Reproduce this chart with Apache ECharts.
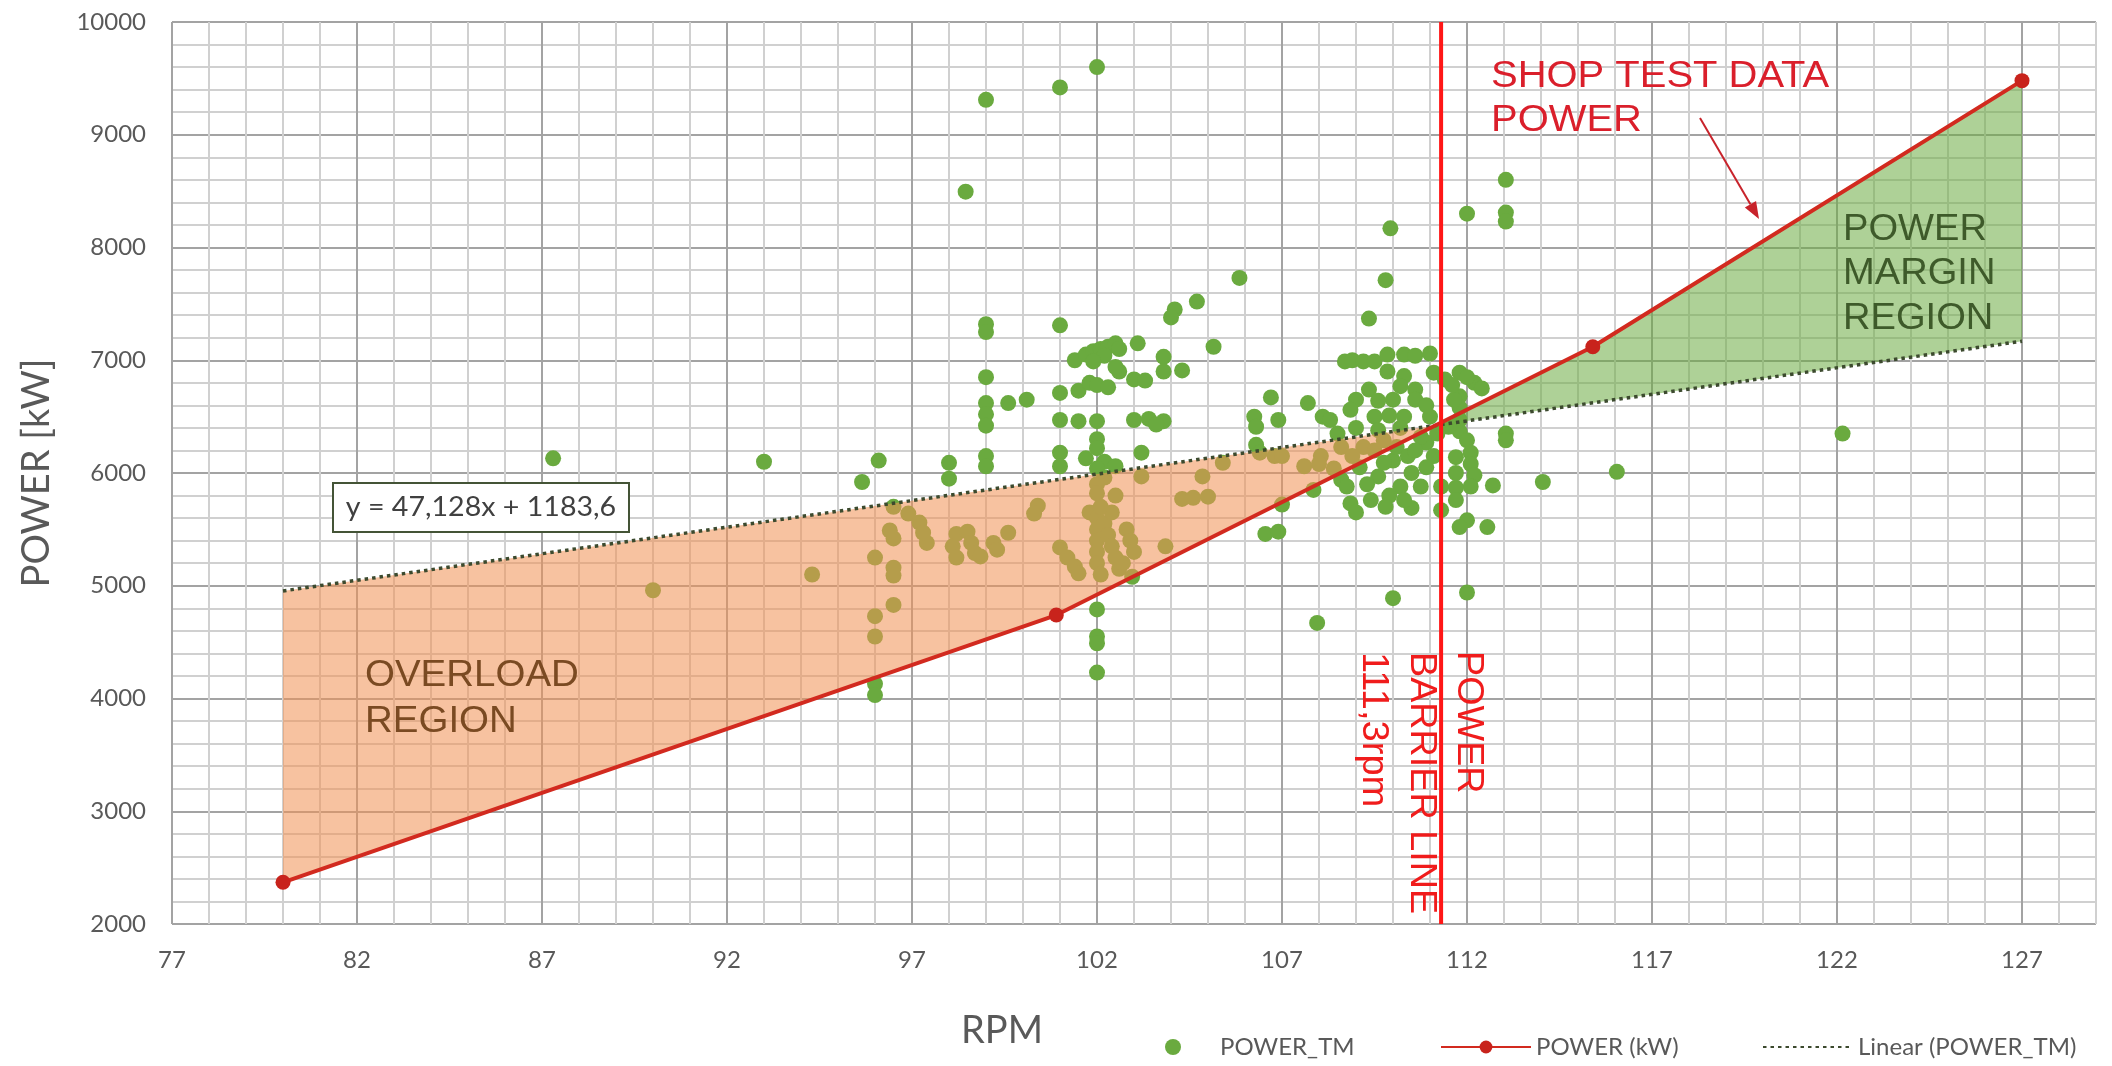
<!DOCTYPE html>
<html>
<head>
<meta charset="utf-8">
<script src="https://cdn.jsdelivr.net/npm/echarts@6/dist/echarts.min.js"></script>
<style>
html,body{margin:0;padding:0;background:#ffffff;}
#chart{width:2112px;height:1066px;}
</style>
</head>
<body>
<div id="chart"></div>
<script>
// ---------------- DATA ----------------
// POWER_TM measurements: [RPM, kW]
const powerTM = [
 [87.3,6130],[90.0,4960],[93.0,6100],[94.3,5100],[95.65,5920],[96.1,6110],
 [96.0,4130],[96.0,4030],[96.0,4730],[96.0,4550],[96.5,4830],[96.0,5250],[96.5,5160],[96.5,5090],
 [96.4,5490],[96.5,5420],[96.5,5700],[96.9,5640],[97.2,5560],[97.4,5380],[97.3,5470],
 [98.0,6090],[98.0,5950],[98.45,8495],[98.2,5460],[98.1,5350],[98.2,5250],[98.5,5480],[98.6,5380],[98.7,5290],[98.85,5260],
 [99.0,9310],[99.0,7320],[99.0,7250],[99.0,6850],[99.0,6620],[99.0,6520],[99.0,6420],[99.0,6150],[99.0,6060],
 [99.2,5380],[99.3,5320],[99.6,5470],[99.6,6620],[100.1,6650],[100.4,5710],[100.3,5640],
 [101.0,9420],[101.0,7310],[101.4,7000],[101.0,6710],[101.5,6730],[101.0,6470],[101.5,6460],[101.0,6180],[101.0,6060],[101.7,6130],
 [101.0,5340],[101.2,5250],[101.4,5170],[101.5,5110],
 [102.0,9600],[101.7,7050],[101.9,7080],[102.1,7100],[102.3,7120],[102.5,7150],[102.6,7100],[102.2,7040],[101.9,6990],
 [101.8,6800],[102.0,6780],[102.3,6760],[102.6,6900],[102.5,6940],[102.0,6460],[102.0,6300],[102.0,6220],[102.2,6100],[102.5,6060],
 [102.0,6040],[102.2,5960],[102.0,5900],[102.0,5820],[102.5,5800],[101.8,5650],[102.0,5600],[102.0,5500],[102.0,5400],[102.0,5300],
 [102.0,5200],[102.1,5100],[102.2,5550],[102.3,5450],[102.4,5350],[102.5,5250],[102.6,5150],[102.8,5500],[102.9,5400],[103.0,5300],
 [102.7,5200],[102.4,5650],[102.1,5700],[102.0,4790],[102.0,4550],[102.0,4490],[102.0,4230],[102.95,5080],
 [103.1,7150],[103.0,6830],[103.3,6820],[103.0,6470],[103.4,6480],[103.8,6460],[103.6,6430],[103.2,6180],[103.2,5970],[103.85,5350],
 [103.8,7030],[104.3,6910],[103.8,6900],[104.1,7450],[104.0,7380],[104.7,7520],[105.15,7120],[105.85,7730],
 [104.3,5770],[104.6,5780],[105.0,5790],[104.85,5970],[105.4,6090],
 [106.25,6500],[106.3,6410],[106.7,6670],[106.9,6470],[106.3,6250],[106.4,6180],[106.8,6150],[106.55,5460],[106.9,5480],[107.0,5720],
 [107.6,6060],[107.7,6620],[108.1,6500],[108.3,6470],[107.95,4670],[107.85,5850],[108.05,6150],[108.0,6080],
 [108.7,6990],[108.9,7000],[109.2,6990],[109.5,6990],[109.85,7050],[110.3,7050],[110.6,7040],[111.0,7060],[109.85,6900],[110.3,6860],
 [110.6,6740],[110.6,6650],[111.1,6890],[111.4,6830],[111.8,6890],[112.2,6800],[112.4,6750],[109.35,6740],[109.0,6650],[108.85,6560],
 [109.35,7370],[109.8,7710],[109.93,8170],[108.5,6350],[109.5,6500],[109.9,6510],[110.3,6500],[111.0,6500],
 [109.0,6400],[109.6,6380],[110.2,6400],[108.6,6230],[109.2,6230],[109.75,6290],
 [111.8,6680],[111.8,6580],[111.8,6470],[111.8,6370],[112.0,6290],[112.1,6180],[112.1,6080],[112.2,5980],[112.1,5880],
 [113.05,6350],[113.05,6290],[111.7,6140],[111.7,6000],[111.7,5870],[111.7,5760],[112.7,5890],[114.05,5920],
 [112.0,5580],[112.55,5520],[111.8,5520],[111.3,5670],[110.5,5690],[110.0,4890],[112.0,4940],
 [112.0,8300],[113.05,8600],[113.05,8310],[113.05,8230],[116.05,6010],[122.15,6350],[111.65,6650],[112.0,6850],[111.6,6780],
 [108.6,5940],[108.85,5730],[109.0,5650],[109.4,5760],[109.1,6050],[109.6,5970],[110.0,6110],[110.2,5880],[110.5,6000],
 [110.75,5880],[110.9,6270],[111.1,6150],[111.3,5880],[110.75,6320],[110.1,6230],[109.75,6090],[108.75,5880],[111.5,6410],
 [109.3,5900],[110.4,6150],[110.9,6050],[109.9,5800],[108.4,6040],[107.0,6150],
 [109.5,6200],[110.6,6200],[110.9,6600],[111.2,6350],[108.9,6150],[110.0,6650],[110.2,6770],[109.6,6640],
 [109.8,5700],[110.3,5760]
];
// Shop test data power curve: [RPM, kW]
const shopTestPower = [[80, 2370], [100.9, 4740], [115.4, 7120], [127, 9480]];
// Linear trend of POWER_TM (y = 47,128x + 1183,6): end points
const linearTrend = [[80, 4954], [127, 7169]];
// Power barrier line at 111,3 rpm
const barrierLine = [[111.3, 2000], [111.3, 10000]];
// Shaded regions (vertices)
const overloadRegion = [[80, 4954], [111.15, 6422], [100.9, 4740], [80, 2370]];
const marginRegion = [[111.15, 6422], [115.4, 7120], [127, 9480], [127, 7169]];
// Axis settings
const xMin = 77, xMax = 129, xMinor = 1, xMajor = 5;
const yMin = 2000, yMax = 10000, yMinor = 200, yMajor = 1000;
const equationText = 'y = 47,128x + 1183,6';

// ---------------- CHART ----------------
const chart = echarts.init(document.getElementById('chart'), null, {renderer: 'canvas'});
const MAJOR = '#A3A3A3', MINOR = '#D0D0D0';
const TICK_FONT = 'Lato';
const ANN_FONT = '"Liberation Sans", Arial, sans-serif';

function regionRenderer(points, fill) {
  return function (params, api) {
    if (params.dataIndex !== 0) return null;
    return {
      type: 'polygon',
      shape: { points: points.map(function (p) { return api.coord(p); }) },
      style: { fill: fill }
    };
  };
}

function annText(text, x, y, color, opts) {
  return Object.assign({
    type: 'text', x: x, y: y, silent: true, z: 100,
    style: {
      text: text, fill: color, fontFamily: ANN_FONT, fontSize: 37,
      textAlign: 'left', textVerticalAlign: 'middle'
    }
  }, opts || {});
}

// arrow geometry (annotation)
const arrowFrom = [1700, 118], arrowTo = [1759, 219];
const adx = arrowTo[0] - arrowFrom[0], ady = arrowTo[1] - arrowFrom[1];
const alen = Math.sqrt(adx * adx + ady * ady);
const ux = adx / alen, uy = ady / alen;
const headL = 17, headW = 6.5;
const baseX = arrowTo[0] - ux * headL, baseY = arrowTo[1] - uy * headL;

const option = {
  animation: false,
  backgroundColor: '#ffffff',
  grid: { left: 172, right: 16, top: 22, bottom: 142, containLabel: false },
  xAxis: {
    type: 'value', min: xMin, max: xMax, interval: xMinor,
    axisLine: { show: false }, axisTick: { show: false },
    axisLabel: {
      formatter: function (v) { return ((v - xMin) % xMajor === 0) ? String(v) : ''; },
      color: '#595959', fontFamily: TICK_FONT, fontSize: 24, margin: 24
    },
    splitLine: { show: true, lineStyle: { color: [MAJOR, MINOR, MINOR, MINOR, MINOR], width: 2 } },
    name: 'RPM', nameLocation: 'middle', nameGap: 88,
    nameTextStyle: { color: '#595959', fontFamily: TICK_FONT, fontSize: 38, padding: [0, 264, 0, 0] }
  },
  yAxis: {
    type: 'value', min: yMin, max: yMax, interval: yMinor,
    axisLine: { show: false }, axisTick: { show: false },
    axisLabel: {
      formatter: function (v) { return (v % yMajor === 0) ? String(v) : ''; },
      color: '#595959', fontFamily: TICK_FONT, fontSize: 24, margin: 26
    },
    splitLine: { show: true, lineStyle: { color: [MAJOR, MINOR, MINOR, MINOR, MINOR], width: 2 } },
    name: 'POWER [kW]', nameLocation: 'middle', nameGap: 116,
    nameTextStyle: { color: '#595959', fontFamily: TICK_FONT, fontSize: 38 }
  },
  legend: [
    { data: ['POWER_TM'], left: 1160, top: 1030, itemWidth: 16, itemHeight: 16,
      textStyle: { color: '#595959', fontFamily: TICK_FONT, fontSize: 24, padding: [0, 0, 0, 34] } },
    { data: ['POWER (kW)'], left: 1435, top: 1030, itemWidth: 90, itemHeight: 16,
      textStyle: { color: '#595959', fontFamily: TICK_FONT, fontSize: 24 } },
    { data: ['Linear (POWER_TM)'], left: 1757, top: 1030, itemWidth: 86, itemHeight: 16,
      itemStyle: { color: 'rgba(0,0,0,0)', borderColor: 'rgba(0,0,0,0)', borderWidth: 0, opacity: 0 },
      textStyle: { color: '#595959', fontFamily: TICK_FONT, fontSize: 24, padding: [0, 0, 0, 4] } }
  ],
  series: [
    {
      name: 'POWER_TM', type: 'scatter', data: powerTM, symbol: 'circle', symbolSize: 16,
      itemStyle: { color: '#6AAA3F', opacity: 1 }, z: 2
    },
    {
      name: 'Overload region', type: 'custom', data: overloadRegion, clip: true, silent: true,
      renderItem: regionRenderer(overloadRegion, 'rgba(241,146,86,0.56)'), z: 3
    },
    {
      name: 'Power margin region', type: 'custom', data: marginRegion, clip: true, silent: true,
      renderItem: regionRenderer(marginRegion, 'rgba(108,172,66,0.55)'), z: 3
    },
    {
      name: 'Linear (POWER_TM)', type: 'line', data: linearTrend, symbol: 'none',
      lineStyle: { color: '#3C4A2E', width: 3.5, type: [3.5, 4] }, z: 5
    },
    {
      name: 'POWER (kW)', type: 'line', data: shopTestPower, symbol: 'circle', symbolSize: 15,
      lineStyle: { color: '#D22A1F', width: 4 }, itemStyle: { color: '#C8231C' }, z: 6
    },
    {
      name: 'Power barrier line', type: 'line', data: barrierLine, symbol: 'none',
      lineStyle: { color: '#FF1616', width: 4 }, z: 7
    }
  ],
  graphic: [
    // trend-line equation box
    { type: 'rect', shape: { x: 333, y: 483, width: 296, height: 49 }, silent: true, z: 100,
      style: { fill: '#ffffff', stroke: '#445436', lineWidth: 2 } },
    { type: 'text', x: 481, y: 508, scaleX: 1.1, silent: true, z: 101,
      style: { text: equationText, fill: '#404040', fontFamily: TICK_FONT, fontSize: 26,
               textAlign: 'center', textVerticalAlign: 'middle' } },
    // overload region label
    annText('OVERLOAD', 365, 676, '#7A4A22', { scaleX: 1.04 }),
    annText('REGION', 365, 722, '#7A4A22', { scaleX: 1.04 }),
    // power margin label
    annText('POWER', 1843, 230, '#3E5A2A', { scaleX: 1.03 }),
    annText('MARGIN', 1843, 274, '#3E5A2A', { scaleX: 1.03 }),
    annText('REGION', 1843, 319, '#3E5A2A', { scaleX: 1.03 }),
    // shop test data label
    annText('SHOP TEST DATA', 1491, 77, '#DA1F2B', { scaleX: 1.08 }),
    annText('POWER', 1491, 121, '#DA1F2B', { scaleX: 1.08 }),
    // arrow
    { type: 'line', silent: true, z: 100,
      shape: { x1: arrowFrom[0], y1: arrowFrom[1], x2: baseX, y2: baseY },
      style: { stroke: '#C8232B', lineWidth: 2 } },
    { type: 'polygon', silent: true, z: 100,
      shape: { points: [arrowTo, [baseX - uy * headW, baseY + ux * headW], [baseX + uy * headW, baseY - ux * headW]] },
      style: { fill: '#C8232B' } },
    // barrier line labels (rotated)
    annText('POWER', 1468, 651, '#F01C1C', { rotation: -Math.PI / 2, scaleX: 1.02 }),
    annText('BARRIER LINE', 1421, 652, '#F01C1C', { rotation: -Math.PI / 2, scaleX: 1.02 }),
    annText('111,3rpm', 1373, 652, '#F01C1C', { rotation: -Math.PI / 2, scaleX: 1.03 })
  ]
};
chart.setOption(option);
</script>
</body>
</html>
